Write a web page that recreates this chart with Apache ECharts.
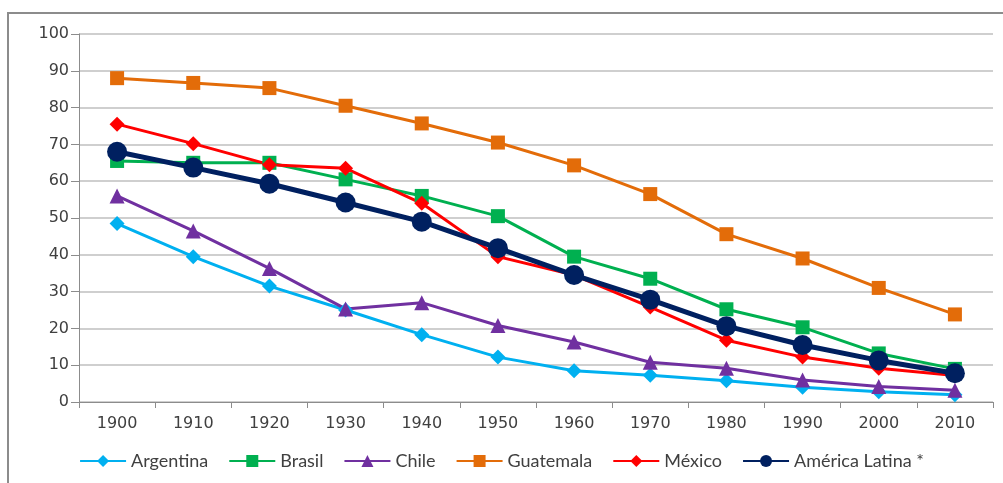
<!DOCTYPE html>
<html>
<head>
<meta charset="utf-8">
<script src="https://cdn.jsdelivr.net/npm/echarts@6/dist/echarts.min.js"></script>
<style>
  html, body { margin: 0; padding: 0; background: #fff; }
  #chart_01 { width: 1003px; height: 483px; }
</style>
</head>
<body>
<div id="chart_01"></div>
<script>
var years = ['1900', '1910', '1920', '1930', '1940', '1950', '1960', '1970', '1980', '1990', '2000', '2010'];
var argentina = [48.5, 39.5, 31.5, 25, 18.3, 12.2, 8.5, 7.3, 5.8, 4, 2.8, 2];
var brasil = [65.5, 65, 65, 60.5, 56, 50.5, 39.5, 33.5, 25.2, 20.3, 13.2, 9];
var chile = [56, 46.5, 36.3, 25.3, 27, 20.8, 16.3, 10.8, 9.2, 6, 4.2, 3.2];
var guatemala = [88, 86.7, 85.3, 80.5, 75.7, 70.5, 64.3, 56.5, 45.6, 39, 31, 23.8];
var mexico = [75.5, 70.2, 64.5, 63.5, 54, 39.5, 34.5, 25.8, 16.8, 12.2, 9.2, 7.2];
var americaLatina = [68, 63.7, 59.3, 54.2, 49, 41.8, 34.5, 27.8, 20.6, 15.5, 11.3, 7.8];

;(function(window) {

    initChart();

    function line(name, data, color, symbol, size, width) {
        return {
            name: name,
            type: 'line',
            data: data,
            symbol: symbol,
            symbolSize: size,
            showAllSymbol: true,
            lineStyle: { color: color, width: width },
            itemStyle: { color: color },
            emphasis: { disabled: true },
            animation: false
        };
    }

    function initChart() {
        var myChart = echarts.init(document.getElementById('chart_01'));
        var textColor = '#404040';

        var options = {
            backgroundColor: '#fff',
            textStyle: { fontFamily: 'DejaVu Sans' },
            graphic: [{
                type: 'rect',
                shape: { x: 8, y: 13, width: 1010, height: 490 },
                style: { fill: 'none', stroke: '#8c8c8c', lineWidth: 2 }
            }],
            grid: { left: 79, right: 10, top: 34, bottom: 81 },
            legend: {
                bottom: 8,
                left: 'center',
                itemWidth: 46,
                itemHeight: 15,
                itemGap: 20,
                textStyle: { fontFamily: 'Lato', fontSize: 18, color: textColor },
                data: ['Argentina', 'Brasil', 'Chile', 'Guatemala', 'México', 'América Latina *']
            },
            xAxis: {
                type: 'category',
                data: years,
                boundaryGap: true,
                axisLine: { lineStyle: { color: '#8c8c8c', width: 1 } },
                axisTick: { show: true, length: 6, lineStyle: { color: '#8c8c8c' } },
                axisLabel: { color: textColor, fontSize: 16, margin: 14 }
            },
            yAxis: {
                type: 'value',
                min: 0,
                max: 100,
                interval: 10,
                axisLine: { show: true, lineStyle: { color: '#8c8c8c', width: 1 } },
                axisTick: { show: true, length: 8, lineStyle: { color: '#8c8c8c' } },
                axisLabel: { color: textColor, fontSize: 16, margin: 10 },
                splitLine: { lineStyle: { color: '#bfbfbf', width: 1.5 } }
            },
            series: [
                line('Argentina', argentina, '#00b0f0', 'diamond', 15, 3),
                line('Brasil', brasil, '#00b050', 'rect', 14, 3),
                line('Chile', chile, '#7030a0', 'triangle', 15, 3),
                line('Guatemala', guatemala, '#e36c09', 'rect', 14, 3),
                line('México', mexico, '#ff0000', 'diamond', 15, 3),
                line('América Latina *', americaLatina, '#002060', 'circle', 20, 5)
            ]
        };

        myChart.setOption(options);
    }

}(window));
</script>
</body>
</html>
